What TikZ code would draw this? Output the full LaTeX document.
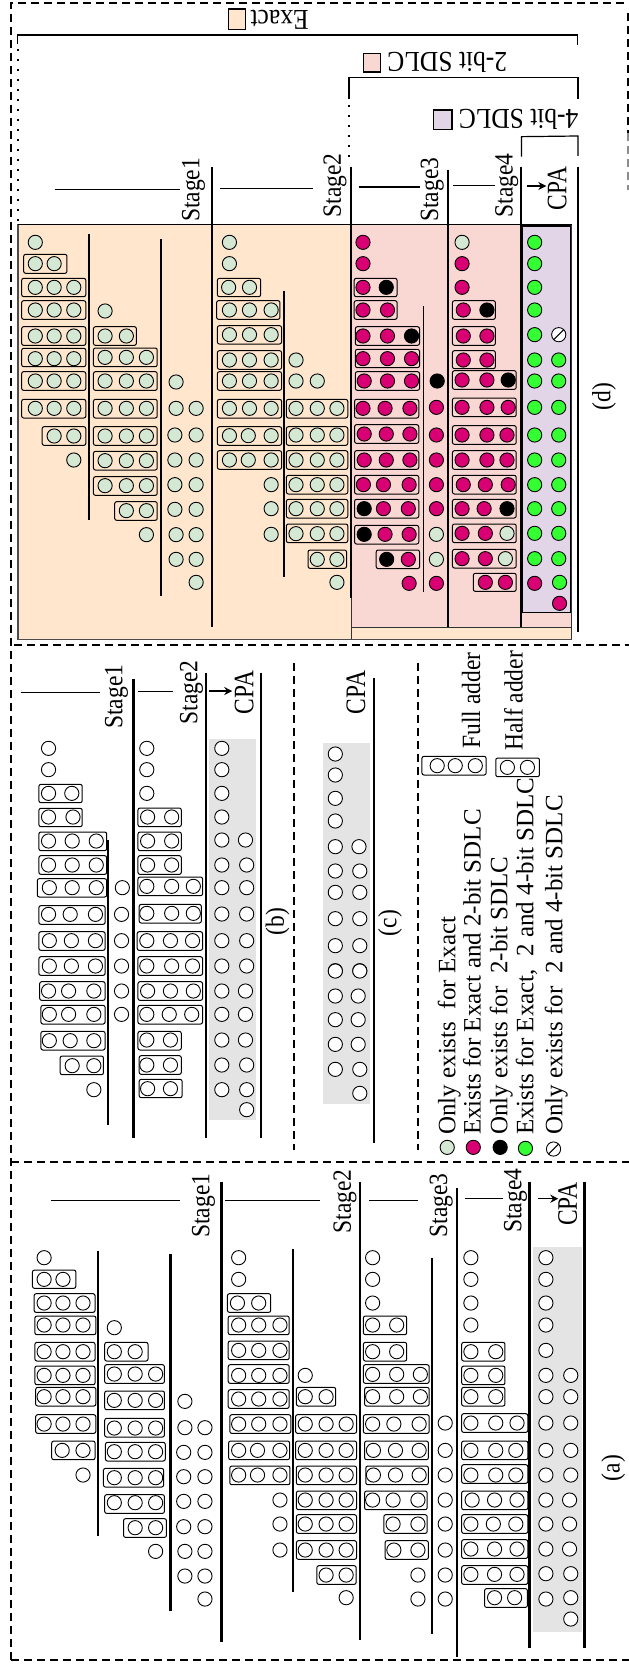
\documentclass[tikz,border=0pt]{standalone}
\usepackage{graphicx}
\usepackage{fontspec}
\usetikzlibrary{arrows.meta}
\setmainfont{Liberation Serif}
\definecolor{cG}{HTML}{D5E8D4}
\definecolor{cM}{HTML}{D80073}
\definecolor{cL}{HTML}{33FF33}
\definecolor{peach}{HTML}{FFE6CC}
\definecolor{rosy}{HTML}{F9D8D4}
\definecolor{lav}{HTML}{E1D5E7}
\definecolor{grayb}{HTML}{E4E4E4}
\tikzset{
 dotcg/.style={draw=black,line width=.9pt,fill=cG},
 dotcm/.style={draw=black,line width=.9pt,fill=cM},
 dotck/.style={draw=black,line width=.9pt,fill=black},
 dotcl/.style={draw=black,line width=.9pt,fill=cL},
 dotcw/.style={draw=black,line width=.9pt,fill=white},
 addbox/.style={draw=black,line width=1pt,rounded corners=2pt},
 rule/.style={draw=black,line width=2.2pt},
 thinrule/.style={draw=black,line width=1.1pt},
 hair/.style={draw=black,line width=1.2pt},
 framedash/.style={draw=black,line width=2pt,dash pattern=on 8pt off 5pt},
 dots/.style={draw=black,line width=1.8pt,dash pattern=on 2pt off 8pt},
 lbl/.style={font=\fontsize{23.5}{24}\selectfont,inner sep=0pt,rotate=90,anchor=base},
 lbltop/.style={font=\fontsize{25.5}{26}\selectfont,inner sep=0pt,rotate=180,anchor=center},
 legendtext/.style={font=\fontsize{25}{25}\selectfont,inner sep=0pt,rotate=90,anchor=base west},
 swatch/.style={draw=black,line width=1.1pt},
}
\newcommand{\St}[1]{\scalebox{1}[1.12]{#1}}
\newcommand{\Cp}[1]{\scalebox{1}[1.2]{#1}}
\newcommand{\Tp}[1]{\scalebox{1}[1.13]{#1}}
\newcommand{\Rw}[3]{\foreach \xx in {#3}{\path[dot#2] (\xx,#1) circle[radius=7.1pt];}}
\newcommand{\Bx}[4]{\draw[addbox] (#1,#2) rectangle (#3,#4);}
\newcommand{\Sl}[2]{\path[dotcw] (#1,#2) circle[radius=7.1pt];\draw[line width=1pt] (#1,#2) ++(-5pt,-5pt) -- ++(10pt,10pt);}
\begin{document}
\begin{tikzpicture}[x=.4011pt,y=-.33333pt]
\useasboundingbox (0,0) rectangle (1568,4995);
% backgrounds of (d)
\filldraw[fill=peach,draw=black!70,line width=1.2pt] (45,673) rectangle (1425,1918);
\fill[rosy] (877,673) rectangle (1425,1882);
\filldraw[fill=lav,draw=black,line width=1.5pt] (1302,678) rectangle (1424,1838);
\draw[black!80,line width=1.2pt] (877,1882) -- (1425,1882) (877,673) -- (877,1918) (1425,673)--(1425,1918);
\draw[black,line width=1.5pt] (45,673)--(1425,673);
% gray backgrounds
\fill[grayb] (521,2217) rectangle (638,3360);
\fill[grayb] (806,2229) rectangle (922,3311);
\fill[grayb] (1328,3740) rectangle (1451,4895);
% frames
\draw[framedash] (27,4980) -- (27,10) -- (1568,10);
\draw[framedash] (35,1935) -- (1568,1935);
\draw[framedash] (27,3485) -- (1568,3485);
\draw[framedash] (27,4980) -- (1568,4980);
\draw[framedash] (1565,40) -- (1565,400);
\draw[framedash,draw=black!45] (1565,400) -- (1565,570);
\draw[framedash,line width=1.8pt] (733,1990) -- (733,3450);
\draw[framedash,line width=1.8pt] (1042,1990) -- (1042,3450);
% brackets of (d)
\draw[hair] (44,133) -- (44,105) -- (1440,105) -- (1440,135);
\draw[dots] (44,148) -- (44,665);
\draw[hair] (870,297) -- (870,232) -- (1441,232) -- (1441,297);
\draw[dots] (870,316) -- (870,475);
\draw[hair] (1300,470) -- (1300,410) -- (1441,408) -- (1441,468);
\node[lbltop] (lexact) at (697,58) {\Tp{Exact}};
\node[lbltop] (l2bit) at (1115,187) {\Tp{2-bit SDLC}};
\node[lbltop] (l4bit) at (1293,357) {\Tp{4-bit SDLC}};
\draw[swatch,fill=peach] (570,27) rectangle (611,88);
\draw[swatch,fill=rosy] (906,160) rectangle (948,216);
\draw[swatch,fill=lav] (1080,330) rectangle (1127,388);
% rules (d)
\foreach \xx/\ya/\yb in {529/500/1880,875/500/1795,1117/510/1882,1299/500/1882,1441/500/1895,221/702/1560,402/717/1788}{\draw[rule] (\xx,\ya)--(\xx,\yb);}
\draw[thinrule] (708,872)--(708,1730);
\draw[thinrule] (1056,918)--(1056,1775);
% stage labels (d)
\node[lbl] (d1) at (497,570) {\St{Stage1}};
\node[lbl] (d2) at (850,556) {\St{Stage2}};
\node[lbl] (d3) at (1092,569) {\St{Stage3}};
\node[lbl] (d4) at (1278,556) {\St{Stage4}};
\node[lbl] (dc) at (1412,566) {\Cp{CPA}};
\node[lbl] (dl) at (1522,1190) {\St{(d)}};
\draw[hair] (136,568)--(450,568);
\draw[hair] (548,565)--(780,565);
\draw[hair] (894,561)--(1048,561);
\draw[hair] (1130,557)--(1235,557);
\coordinate (da) at (1315,558); \coordinate (db) at (1362,558);
\draw[hair,-{Stealth[length=8pt,width=8pt]}] (da)--(db);
% (d) dots: zoom 1
\Rw{727}{cg}{88}
\Bx{59}{763}{167}{820}\Rw{791}{cg}{88,135}
\Bx{54}{835}{214}{890}\Rw{862}{cg}{88,135,184}
\Bx{54}{902}{214}{958}\Rw{930}{cg}{88,135,184}\Rw{933}{cg}{262}
\Rw{727}{cg}{572}\Rw{791}{cg}{572}
\Bx{542}{835}{650}{890}\Rw{862}{cg}{570,622}
\Bx{540}{902}{698}{958}\Rw{930}{cg}{572,622,676}
\Rw{727}{cm}{905}\Rw{791}{cm}{905}
\Bx{883}{835}{990}{890}\Rw{862}{cm}{905}\Rw{862}{ck}{963}
\Bx{883}{902}{990}{958}\Rw{930}{cm}{905,966}
\Rw{727}{cg}{1152}\Rw{791}{cm}{1152}\Rw{862}{cm}{1152}
\Bx{1128}{902}{1235}{958}\Rw{930}{cm}{1155}\Rw{930}{ck}{1214}
\Rw{727}{cl}{1333}\Rw{791}{cl}{1333}\Rw{862}{cl}{1333}\Rw{930}{cl}{1333}
% (d) dots: zoom 2
\begin{scope}[yshift=-320pt]
\Bx{54}{20}{214}{76}\Rw{48}{cg}{88,135,184}
\Bx{233}{20}{340}{76}\Rw{48}{cg}{262,315}
\Bx{54}{85}{214}{140}\Rw{116}{cg}{88,135,184}
\Bx{233}{84}{392}{140}\Rw{112}{cg}{262,315,365}
\Bx{54}{155}{214}{211}\Rw{183}{cg}{88,135,184}
\Bx{233}{155}{392}{211}\Rw{183}{cg}{262,315,365}\Rw{186}{cg}{439}
\Bx{54}{238}{214}{294}\Rw{265}{cg}{88,135,184}
\Bx{233}{238}{392}{294}\Rw{265}{cg}{262,315,365}\Rw{265}{cg}{439,489}
\Bx{105}{320}{214}{376}\Rw{348}{cg}{135,184}
\Bx{233}{320}{392}{376}\Rw{348}{cg}{262,315,365}\Rw{345}{cg}{436,489}
\Rw{420}{cg}{184}
\Bx{233}{394}{392}{450}\Rw{422}{cg}{262,315,365}\Rw{420}{cg}{436,489}
\Bx{233}{470}{392}{526}\Rw{497}{cg}{262,315,365}\Rw{494}{cg}{436,489}
\Bx{286}{545}{392}{601}\Rw{572}{cg}{315,365}\Rw{568}{cg}{436,489}
\Rw{644}{cg}{365,439,489}
\Rw{718}{cg}{439,489}
\Rw{787}{cg}{489}
% second group
\Bx{542}{17}{702}{72}\Rw{44}{cg}{572,622,676}
\Bx{542}{92}{702}{148}\Rw{120}{cg}{572,622,676,738}
\Bx{542}{155}{702}{211}\Rw{183}{cg}{572,622,676,738,791}
\Bx{542}{238}{702}{294}\Rw{265}{cg}{572,622,676}
\Bx{714}{238}{867}{294}\Rw{265}{cg}{738,791,840}
\Bx{542}{320}{702}{376}\Rw{347}{cg}{572,619,676}
\Bx{714}{320}{867}{376}\Rw{345}{cg}{738,791,840}
\Bx{542}{392}{702}{448}\Rw{420}{cg}{572,619,676}
\Bx{714}{392}{867}{448}\Rw{420}{cg}{738,791,840}
\Rw{494}{cg}{676}\Bx{714}{466}{867}{522}\Rw{494}{cg}{738,791,840}
\Rw{566}{cg}{676}\Bx{714}{538}{867}{594}\Rw{566}{cg}{738,791,840}
\Rw{643}{cg}{676}\Bx{714}{612}{867}{668}\Rw{641}{cg}{738,791,840}
\Bx{768}{690}{864}{745}\Rw{718}{cg}{791,840}
\Rw{787}{cg}{840}
% third group
\Bx{886}{20}{1046}{76}\Rw{48}{cm}{905,966}\Rw{48}{ck}{1026}
\Bx{886}{88}{1046}{143}\Rw{116}{cm}{905,966,1026}
\Bx{886}{155}{1046}{211}\Rw{183}{cm}{908,966,1026}\Rw{183}{ck}{1090}
\Bx{884}{238}{1044}{294}\Rw{265}{cm}{905,960,1022}\Rw{262}{cm}{1088}
\Bx{884}{314}{1044}{370}\Rw{342}{cm}{908,963,1022}\Rw{345}{cm}{1088}
\Bx{884}{392}{1044}{448}\Rw{420}{cm}{908,963,1022,1088}
\Bx{884}{466}{1044}{522}\Rw{494}{cm}{906,956,1020,1088}
\Bx{884}{538}{1044}{594}\Rw{566}{ck}{908}\Rw{566}{cm}{956,1018,1088}
\Bx{884}{616}{1044}{672}\Rw{643}{ck}{908}\Rw{643}{cm}{960,1020}\Rw{643}{cg}{1088}
\Bx{938}{690}{1046}{746}\Rw{718}{ck}{964}\Rw{718}{cm}{1018}\Rw{718}{cg}{1088}
\Rw{790}{cm}{1020,1088}
% fourth group
\Bx{1128}{20}{1235}{76}\Rw{48}{cm}{1155,1214}
\Bx{1128}{92}{1235}{146}\Rw{120}{cm}{1155,1214}
\Bx{1128}{152}{1287}{208}\Rw{180}{cm}{1152,1214}\Rw{180}{ck}{1267}
\Bx{1128}{234}{1287}{290}\Rw{262}{cm}{1152,1214,1267}
\Bx{1128}{317}{1287}{373}\Rw{345}{cm}{1152,1214,1264}
\Bx{1128}{392}{1287}{448}\Rw{420}{cm}{1152,1214,1264}
\Bx{1128}{466}{1287}{522}\Rw{494}{cm}{1155,1210,1267}
\Bx{1128}{538}{1287}{594}\Rw{566}{cm}{1152,1207}\Rw{566}{ck}{1264}
\Bx{1128}{612}{1287}{668}\Rw{640}{cm}{1152,1210}\Rw{640}{cg}{1264}
\Bx{1128}{688}{1287}{744}\Rw{716}{cm}{1152,1210}\Rw{716}{cg}{1260}
\Bx{1180}{760}{1287}{814}\Rw{787}{cm}{1210,1260}
% CPA
\Rw{44}{cl}{1333}\Sl{1393}{44}
\foreach \yy in {120,183,262,345,420,494,566,640,716}{\Rw{\yy}{cl}{1333,1393}}
\Rw{790}{cm}{1333}\Rw{787}{cl}{1395}\Rw{850}{cm}{1395}
\end{scope}
% ---------- (b), (c), legend
\foreach \xx/\ya/\yb in {333/2038/3413,513/2018/3413,650/2018/3413,270/2520/3375,932/2033/3428}{\draw[rule] (\xx,\ya)--(\xx,\yb);}
\begin{scope}[yshift=-640pt]
\node[lbl] (b1) at (305,170) {\St{Stage1}};
\node[lbl] (b2) at (492,157) {\St{Stage2}};
\node[lbl] (bc) at (632,158) {\Cp{CPA}};
\node[lbl] (bl) at (708,845) {\St{(b)}};
\node[lbl] (cc) at (910,157) {\Cp{CPA}};
\node[lbl] (cl) at (988,849) {\St{(c)}};
\draw[hair] (52,158)--(250,158);
\draw[hair] (344,155)--(432,155);
\coordinate (ba) at (522,153); \coordinate (bb) at (579,153);
\draw[hair,-{Stealth[length=8pt,width=8pt]}] (ba)--(bb);
\Rw{325}{cw}{121,366}\Rw{389}{cw}{121,366}
\Bx{97}{433}{205}{488}\Rw{460}{cw}{121,179,366}
\Bx{97}{505}{205}{560}\Rw{531}{cw}{121,182}
\Bx{97}{576}{266}{632}\Rw{603}{cw}{121,180,240}
\Bx{97}{647}{266}{703}\Rw{675}{cw}{121,180,240}
\Bx{93}{716}{266}{771}\Rw{743}{cw}{123,180,240,305}
\Bx{97}{797}{262}{853}\Rw{823}{cw}{121,175,238,303}
\Bx{97}{875}{262}{931}\Rw{902}{cw}{123,178,238,303}
\Bx{97}{950}{262}{1006}\Rw{978}{cw}{123,178,238,303}
\Bx{344}{504}{452}{560}\Rw{531}{cw}{368,428}
\Bx{344}{576}{452}{632}\Rw{603}{cw}{368,428}
\Bx{344}{647}{452}{703}\Rw{675}{cw}{368,428}
\Bx{344}{711}{505}{767}\Rw{739}{cw}{366,428,482}
\Bx{347}{793}{502}{849}\Rw{820}{cw}{366,428,482}
\Bx{342}{875}{505}{931}\Rw{902}{cw}{366,425,480}
\Bx{344}{950}{505}{1006}\Rw{978}{cw}{366,428,480}
\foreach \yy in {325,389,460,531}{\Rw{\yy}{cw}{553}}
\Rw{600}{cw}{553,612}
\foreach \yy in {675,743,822,902,978}{\Rw{\yy}{cw}{553,615}}
\foreach \yy in {342,405,475,543}{\Rw{\yy}{cw}{836}}
\Rw{620}{cw}{836,895}
\foreach \yy in {693,757,836,917,992}{\Rw{\yy}{cw}{836,897}}
\Bx{1052}{349}{1212}{405}\Rw{377}{cw}{1090,1135,1185}
\Bx{1236}{354}{1345}{410}\Rw{382}{cw}{1265,1315}
\node[lbl] (fa) at (1197,182) {\St{Full adder}};
\node[lbl] (ha) at (1303,183) {\St{Half adder}};
\end{scope}
\begin{scope}[yshift=-960pt]
\Bx{99}{65}{262}{121}\Rw{93}{cw}{121,171,234,303}
\Bx{102}{136}{262}{192}\Rw{163}{cw}{123,171,234,303}
\Bx{102}{214}{262}{270}\Rw{242}{cw}{123,175,234}
\Bx{150}{288}{258}{344}\Rw{317}{cw}{180,234}
\Rw{389}{cw}{234}
\Bx{344}{65}{505}{121}\Rw{93}{cw}{368,425,482}
\Bx{344}{136}{505}{192}\Rw{163}{cw}{366,422,478}
\Bx{344}{214}{452}{270}\Rw{240}{cw}{366,425}
\Bx{347}{287}{452}{343}\Rw{315}{cw}{366,425}
\Bx{347}{358}{454}{413}\Rw{386}{cw}{368,425}
\Rw{93}{cw}{553,612}\Rw{163}{cw}{553,612}\Rw{240}{cw}{553,612}\Rw{315}{cw}{553,615}
\Rw{389}{cw}{553,615}\Rw{449}{cw}{615}
\Rw{33}{cw}{836,897}\Rw{108}{cw}{836,893}\Rw{179}{cw}{836,893}\Rw{253}{cw}{836,893}
\Rw{328}{cw}{836,897}\Rw{400}{cw}{897}
% legend
\Rw{562}{cg}{1115}\Rw{562}{cm}{1180}\Rw{562}{ck}{1247}\Rw{565}{cl}{1310}
\Sl{1380}{567}
\node[legendtext] (t1) at (1135,525) {Only exists~ for Exact};
\node[legendtext] (t2) at (1198,525) {Exists for Exact and 2-bit SDLC};
\node[legendtext] (t3) at (1265,525) {Only exists for~ 2-bit SDLC};
\node[legendtext] (t4) at (1330,525) {Exists for Exact,~ 2 and 4-bit SDLC};
\node[legendtext] (t5) at (1402,525) {Only exists for~ 2 and 4-bit SDLC};
% (a) top
\node[lbl] (a1) at (522,737) {\St{Stage1}};
\node[lbl] (a2) at (875,724) {\St{Stage2}};
\node[lbl] (a3) at (1115,736) {\St{Stage3}};
\node[lbl] (a4) at (1300,722) {\St{Stage4}};
\node[lbl] (ac) at (1438,732) {\Cp{CPA}};
\draw[hair] (127,722)--(450,722);
\draw[hair] (562,722)--(797,722);
\draw[hair] (920,722)--(1042,722);
\draw[hair] (1160,716)--(1255,716);
\coordinate (aa) at (1342,716); \coordinate (ab) at (1392,716);
\draw[hair,-{Stealth[length=8pt,width=8pt]}] (aa)--(ab);
\Rw{893}{cw}{110,595,929,1174,1361}
\Bx{81}{930}{189}{985}\Rw{958}{cw}{110,157,595,929,1174,1361}
\end{scope}
% rules (a)
\foreach \xx/\ya/\yb in {552/3545/4927,897/3545/4920,1140/3565/4970,1320/3545/4943,1457/3545/4943,244/3752/4608,425/3763/4833,730/3748/4777,1078/3775/4903}{\draw[rule] (\xx,\ya)--(\xx,\yb);}
\begin{scope}[yshift=-1280pt]
\node[lbl] (al) at (1545,564) {\St{(a)}};
\Bx{85}{41}{237}{97}\Rw{69}{cw}{110,157,207}
\Bx{87}{108}{239}{164}\Rw{135}{cw}{110,157,207}\Rw{143}{cw}{285}
\Bx{87}{187}{237}{243}\Rw{215}{cw}{110,157,207}
\Bx{261}{187}{369}{243}\Rw{215}{cw}{285,337}
\Bx{87}{258}{237}{314}\Rw{286}{cw}{110,157,207}
\Bx{261}{254}{410}{310}\Rw{282}{cw}{285,337,388}
\Bx{89}{322}{239}{378}\Rw{350}{cw}{110,157,207}
\Bx{261}{333}{410}{389}\Rw{361}{cw}{285,337,388}\Rw{364}{cw}{461}
\Bx{89}{404}{239}{460}\Rw{432}{cw}{110,157,207}
\Bx{261}{415}{410}{471}\Rw{444}{cw}{285,337,388}\Rw{443}{cw}{461,511}
\Bx{129}{483}{237}{539}\Rw{511}{cw}{155,207}
\Bx{263}{487}{412}{543}\Rw{515}{cw}{285,337,388}\Rw{517}{cw}{458,511}
\Rw{585}{cw}{207}
\Bx{258}{565}{408}{621}\Rw{593}{cw}{285,337,388}\Rw{590}{cw}{458,511}
\Bx{261}{644}{410}{700}\Rw{668}{cw}{285,337,388}\Rw{664}{cw}{458,511}
\Bx{308}{716}{415}{772}\Rw{743}{cw}{337,388}\Rw{740}{cw}{458,511}
\Rw{814}{cw}{388,461,511}
\Rw{888}{cw}{461,511}
\Rw{957}{cw}{511}
% group 2
\Bx{567}{41}{675}{97}\Rw{69}{cw}{592,645}
\Bx{569}{108}{721}{164}\Rw{135}{cw}{595,645,698}
\Bx{569}{183}{721}{239}\Rw{211}{cw}{595,645,698}
\Bx{569}{254}{721}{310}\Rw{286}{cw}{595,645,698,761}
\Bx{569}{329}{721}{385}\Rw{357}{cw}{595,645,698}
\Bx{739}{322}{837}{378}\Rw{350}{cw}{761,813}
\Bx{573}{404}{725}{460}\Rw{432}{cw}{595,645,698}
\Bx{737}{404}{889}{460}\Rw{432}{cw}{761,813,863}
\Bx{570}{483}{722}{539}\Rw{511}{cw}{595,642,698}
\Bx{737}{483}{889}{539}\Rw{511}{cw}{761,813,863}
\Bx{573}{558}{723}{614}\Rw{585}{cw}{595,642,698}
\Bx{739}{558}{889}{614}\Rw{585}{cw}{761,813,863}
\Rw{660}{cw}{698}\Bx{739}{633}{889}{689}\Rw{660}{cw}{761,813,863}
\Rw{732}{cw}{698}\Bx{739}{704}{889}{760}\Rw{732}{cw}{761,813,863}
\Rw{810}{cw}{698}\Bx{739}{782}{889}{838}\Rw{810}{cw}{761,813,863}
\Bx{790}{857}{888}{913}\Rw{885}{cw}{813,863}
\Rw{953}{cw}{863}
% group 3
\Rw{69}{cw}{929}
\Bx{906}{108}{1014}{164}\Rw{135}{cw}{929,989}
\Bx{906}{187}{1014}{243}\Rw{215}{cw}{929,989}
\Bx{906}{254}{1070}{310}\Rw{283}{cw}{929,989,1048}
\Bx{909}{322}{1070}{378}\Rw{350}{cw}{929,989,1048}
\Bx{906}{404}{1070}{460}\Rw{432}{cw}{929,982,1045}\Rw{429}{cw}{1110}
\Bx{909}{483}{1068}{539}\Rw{511}{cw}{931,986,1045,1110}
\Bx{912}{558}{1068}{614}\Rw{585}{cw}{931,986,1045,1110}
\Bx{909}{633}{1065}{689}\Rw{660}{cw}{929,980,1042,1110}
\Bx{957}{704}{1065}{760}\Rw{732}{cw}{980,1042,1110}
\Bx{960}{782}{1068}{838}\Rw{810}{cw}{982,1042,1110}
\Rw{885}{cw}{1042,1110}
\Rw{957}{cw}{1042,1110}
% group 4
\Rw{69}{cw}{1174}\Rw{135}{cw}{1174}
\Bx{1151}{187}{1259}{243}\Rw{215}{cw}{1174,1236}
\Bx{1151}{258}{1259}{314}\Rw{286}{cw}{1174,1236}
\Bx{1151}{322}{1259}{378}\Rw{350}{cw}{1174,1236}
\Bx{1151}{401}{1316}{457}\Rw{429}{cw}{1174,1236,1289}
\Bx{1151}{483}{1316}{539}\Rw{511}{cw}{1174,1236,1286}
\Bx{1151}{554}{1316}{610}\Rw{585}{cw}{1174,1236,1286}
\Bx{1151}{633}{1316}{689}\Rw{660}{cw}{1177,1233,1289}
\Bx{1151}{704}{1316}{760}\Rw{732}{cw}{1174,1230,1286}
\Bx{1151}{779}{1316}{835}\Rw{807}{cw}{1174,1233,1289}
\Bx{1151}{857}{1316}{913}\Rw{883}{cw}{1174,1233,1289}
\Bx{1208}{926}{1315}{982}\Rw{953}{cw}{1233,1283}
% CPA
\foreach \yy in {69,135,211}{\Rw{\yy}{cw}{1361}}
\foreach \yy in {286,350,429,511,585}{\Rw{\yy}{cw}{1361,1423}}
\foreach \yy in {660,732,807}{\Rw{\yy}{cw}{1361,1420}}
\Rw{881}{cw}{1361,1423}
\Rw{957}{cw}{1361}\Rw{953}{cw}{1423}\Rw{1017}{cw}{1423}
\end{scope}
\end{tikzpicture}
\end{document}
